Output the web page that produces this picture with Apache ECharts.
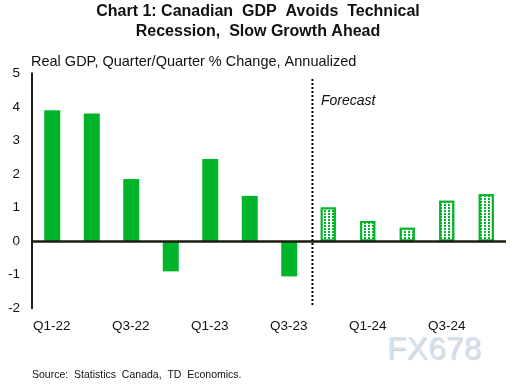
<!DOCTYPE html>
<html><head><meta charset="utf-8">
<script src="https://cdn.jsdelivr.net/npm/echarts@6/dist/echarts.min.js"></script>
<style>html,body{margin:0;padding:0;background:#fff}#c{width:516px;height:386px}</style>
</head><body><div id="c"></div>
<script>
const categories = ['Q1-22','Q2-22','Q3-22','Q4-22','Q1-23','Q2-23','Q3-23','Q4-23','Q1-24','Q2-24','Q3-24','Q4-24'];
const actualValues = [3.9, 3.8, 1.85, -0.9, 2.45, 1.35, -1.05, null, null, null, null, null];
const forecastValues = [null, null, null, null, null, null, null, 1.0, 0.6, 0.4, 1.2, 1.4];
const yTicks = [-2, -1, 0, 1, 2, 3, 4, 5];
const forecastDivider = [[7.1, -1.9], [7.1, 4.85]];

const GREEN = '#00b52a';
const DARK = '#1c1c10';
const FONT = '"Liberation Sans", Arial, sans-serif';

const chart = echarts.init(document.getElementById('c'), null, {renderer: 'canvas'});
chart.setOption({
  backgroundColor: '#fff',
  animation: false,
  title: {
    text: 'Chart 1: Canadian  GDP  Avoids  Technical\nRecession,  Slow Growth Ahead',
    left: 'center', top: -3,
    textStyle: {fontFamily: FONT, fontSize: 16, fontWeight: 'bold', color: '#111', lineHeight: 20}
  },
  grid: {left: 32, right: 10, top: 73.3, bottom: 77.7, containLabel: false},
  xAxis: [{
    type: 'category', data: categories,
    axisLine: {show: false, onZero: false},
    axisTick: {show: false},
    axisLabel: {interval: 1, margin: 11, fontFamily: FONT, fontSize: 13.5, color: '#111'},
    splitLine: {show: false}
  }, {
    type: 'value', min: 0, max: 12, show: false
  }],
  yAxis: {
    type: 'value', min: yTicks[0], max: yTicks[yTicks.length - 1], interval: 1,
    axisLine: {show: true, lineStyle: {color: DARK, width: 2}},
    axisTick: {show: false},
    splitLine: {show: false},
    axisLabel: {margin: 12, fontFamily: FONT, fontSize: 13.5, color: '#111'}
  },
  graphic: [
    {type: 'text', left: 31, top: 54, style: {text: 'Real GDP, Quarter/Quarter % Change, Annualized', font: '14.5px ' + FONT, fill: '#111'}},
    {type: 'text', left: 321, top: 94, style: {text: 'Forecast', font: 'italic 14px ' + FONT, fill: '#111'}},
    {type: 'text', left: 32, top: 369.5, style: {text: 'Source:  Statistics  Canada,  TD  Economics.', font: '10.5px ' + FONT, fill: '#111'}},
    {type: 'text', left: 387, top: 334, style: {text: 'FX678', font: '32px ' + FONT, fill: '#d3e2f2', letterSpacing: 4, textShadowColor: 'rgba(140,120,90,0.35)', textShadowBlur: 1, textShadowOffsetX: 1, textShadowOffsetY: 1}}
  ],
  series: [{
    type: 'bar', data: actualValues, barWidth: 16, barGap: '-100%',
    itemStyle: {color: GREEN},
    markLine: {
      silent: true, symbol: 'none', label: {show: false},
      lineStyle: {color: DARK, width: 2.5, type: 'solid'},
      data: [{yAxis: 0}]
    }
  }, {
    type: 'bar', data: forecastValues, barWidth: 15,
    itemStyle: {
      color: '#fff', borderColor: GREEN, borderWidth: 2,
      decal: {symbol: 'rect', symbolSize: 1, color: GREEN, backgroundColor: '#fff', dashArrayX: [2, 2], dashArrayY: [2, 1], rotation: 0}
    }
  }, {
    type: 'line', xAxisIndex: 1, data: forecastDivider, symbol: 'none',
    lineStyle: {color: '#000', width: 2, type: [2, 2]}, silent: true, z: 5
  }]
});
</script></body></html>
